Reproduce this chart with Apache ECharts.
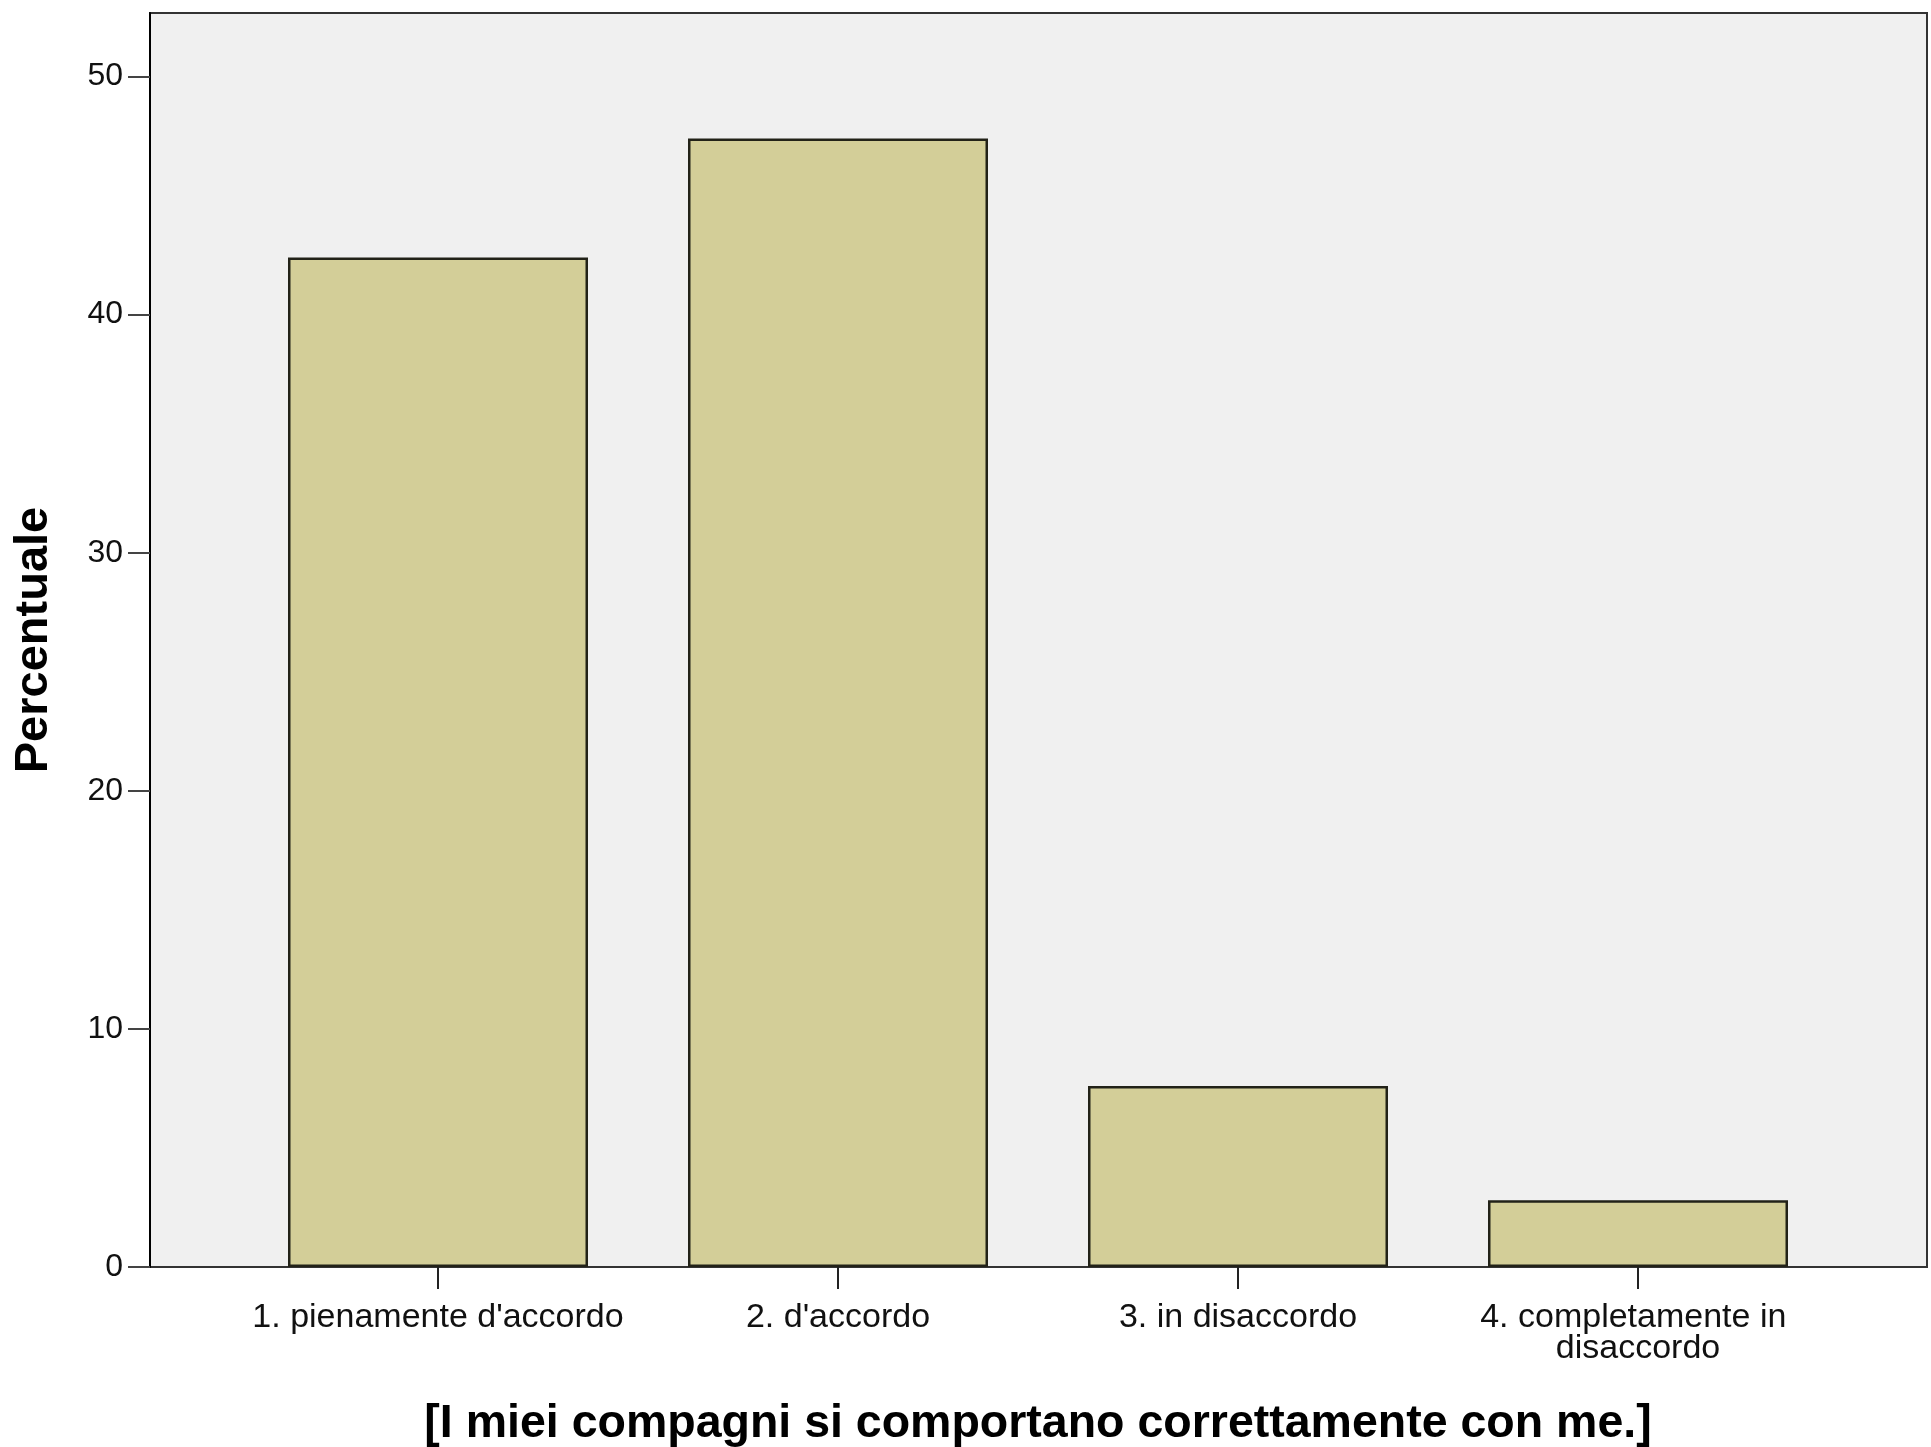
<!DOCTYPE html>
<html>
<head>
<meta charset="utf-8">
<script src="https://cdn.jsdelivr.net/npm/echarts@6/dist/echarts.min.js"></script>
<style>
html,body{margin:0;padding:0;background:#fff;}
#chart{width:1931px;height:1447px;}
</style>
</head>
<body>
<div id="chart"></div>
<script>
const categories = ["1. pienamente d'accordo", "2. d'accordo", "3. in disaccordo", "4. completamente in disaccordo"];
const percentValues = [42.4, 47.4, 7.6, 2.8];
const yTickValues = [0, 10, 20, 30, 40, 50];
const xTitle = "[I miei compagni si comportano correttamente con me.]";
const yTitle = "Percentuale";

const chart = echarts.init(document.getElementById('chart'), null, {renderer: 'canvas'});
const option = {
  animation: false,
  backgroundColor: '#ffffff',
  grid: [
    {left: 150, right: 4, top: 13, bottom: 180, show: true, backgroundColor: '#f0f0f0',
     borderColor: '#333333', borderWidth: 2, outerBoundsMode: 'none'},
    {left: 238, right: 93, top: 13, bottom: 180, outerBoundsMode: 'none'}
  ],
  xAxis: [
    {gridIndex: 0, type: 'category', data: categories, show: false},
    {gridIndex: 1, type: 'category', data: categories,
     axisLine: {show: false},
     axisTick: {show: true, alignWithLabel: true, length: 22, lineStyle: {color: '#222222', width: 2}},
     axisLabel: {interval: 0, margin: 35, fontSize: 34, color: '#111111', fontFamily: 'Liberation Sans',
                 width: 390, overflow: 'break', lineHeight: 31},
     name: xTitle, nameLocation: 'middle', nameGap: 134,
     nameTextStyle: {fontFamily: 'Liberation Sans', fontWeight: 'bold', fontSize: 46.5, color: '#000000'}}
  ],
  yAxis: [
    {gridIndex: 0, type: 'value', min: 0, max: 52.67, interval: 10,
     axisLine: {show: true, lineStyle: {color: '#000000', width: 2}},
     axisTick: {show: true, length: 22, customValues: yTickValues, lineStyle: {color: '#444444', width: 2}},
     axisLabel: {customValues: yTickValues, fontSize: 32, margin: 27, color: '#111111', fontFamily: 'Liberation Sans'},
     splitLine: {show: false},
     name: yTitle, nameLocation: 'middle', nameGap: 92,
     nameTextStyle: {fontFamily: 'Liberation Sans', fontWeight: 'bold', fontSize: 47, color: '#000000'}},
    {gridIndex: 1, type: 'value', min: 0, max: 52.67, show: false, splitLine: {show: false}}
  ],
  series: [
    {type: 'bar', xAxisIndex: 1, yAxisIndex: 1, data: percentValues, barWidth: '75%',
     itemStyle: {color: '#d3ce98', borderColor: '#222218', borderWidth: 2.5}}
  ]
};
chart.setOption(option);
</script>
</body>
</html>
